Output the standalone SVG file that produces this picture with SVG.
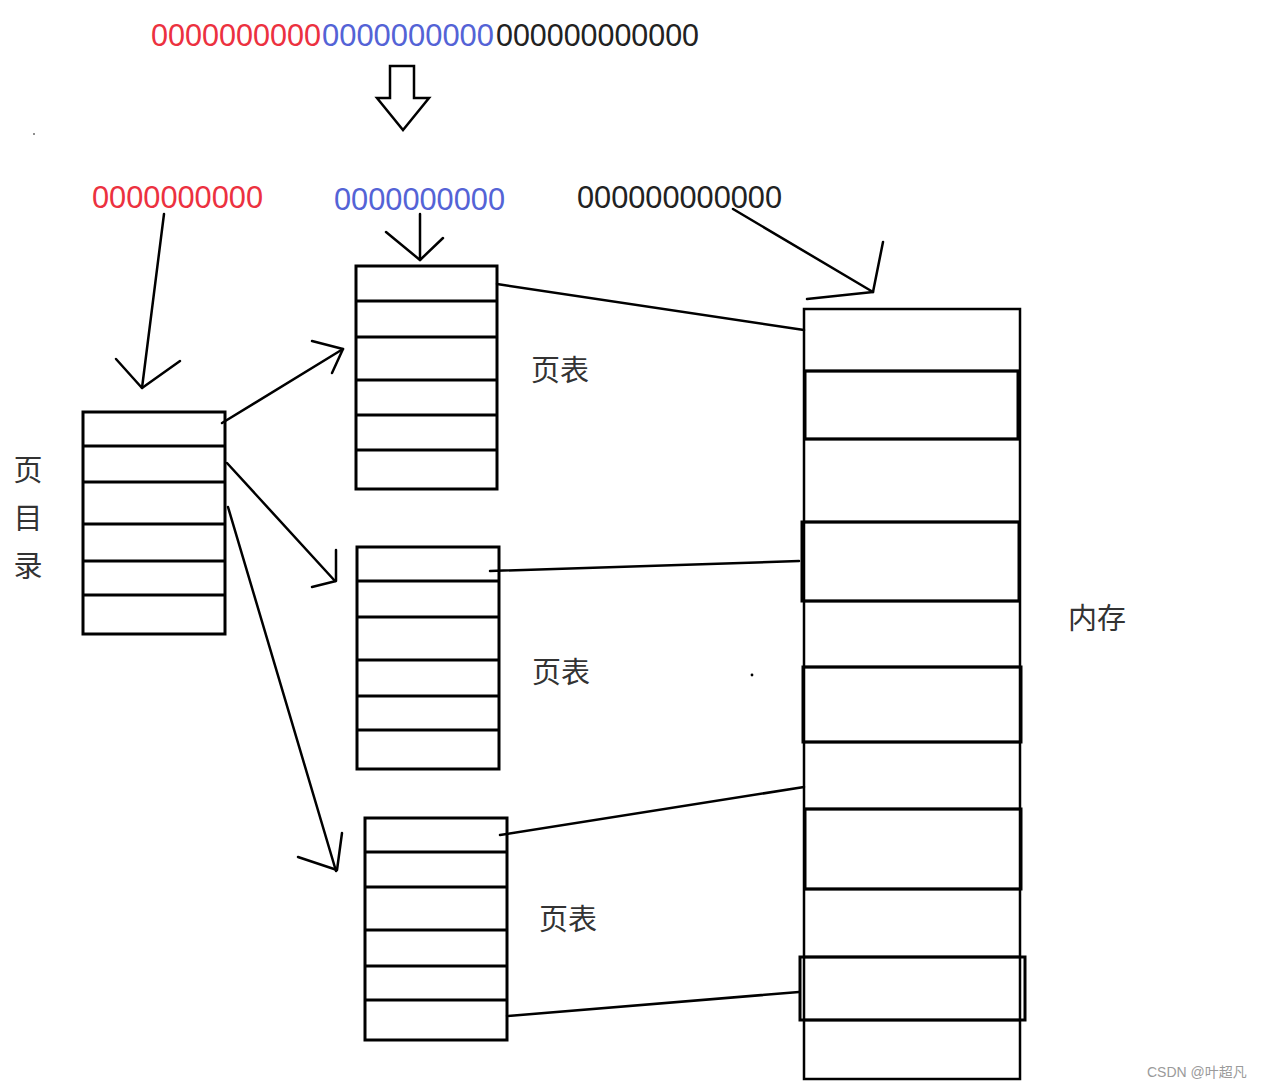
<svg xmlns="http://www.w3.org/2000/svg" width="1262" height="1089" viewBox="0 0 1262 1089">
<style>
.bg{fill:#ffffff}
.num{font-family:"Liberation Sans","Noto Sans",sans-serif;font-size:31px}
.red{fill:#ec3140}
.blue{fill:#5463d6}
.blk{fill:#222222}
.cn{font-family:"Noto Sans CJK SC","Noto Sans",sans-serif;font-size:29px;fill:#333333}
.box{fill:none;stroke:#000;stroke-width:3}
.row{stroke:#000;stroke-width:3}
.mem{fill:none;stroke:#000;stroke-width:2.5}
.memrow{stroke:#000;stroke-width:2.5}
.conn{fill:none;stroke:#000;stroke-width:2.5;stroke-linecap:round;stroke-linejoin:round}
.wm{font-family:"Liberation Sans","Noto Sans CJK SC",sans-serif;font-size:14px;fill:#9a9a9a}
</style>
<rect class="bg" x="0" y="0" width="1262" height="1089"/>

<g id="address-full">
<text class="num red" x="151" y="46" textLength="170" lengthAdjust="spacingAndGlyphs">0000000000</text>
<text class="num blue" x="322" y="46" textLength="172" lengthAdjust="spacingAndGlyphs">0000000000</text>
<text class="num blk" x="496" y="46" textLength="203" lengthAdjust="spacingAndGlyphs">000000000000</text>
</g>

<g id="split-arrow">
<polygon points="390,66 414,66 414,98 429,98 403,130 377,98 390,98" fill="#fff" stroke="#000" stroke-width="2.5" stroke-linejoin="miter"/>
</g>

<g id="address-parts">
<text class="num red" x="92" y="208" textLength="171" lengthAdjust="spacingAndGlyphs">0000000000</text>
<text class="num blue" x="334" y="210" textLength="171" lengthAdjust="spacingAndGlyphs">0000000000</text>
<text class="num blk" x="577" y="208" textLength="205" lengthAdjust="spacingAndGlyphs">000000000000</text>
</g>

<g id="page-directory">
<rect class="box" x="83" y="412" width="142" height="222"/>
<line class="row" x1="83" y1="446" x2="225" y2="446"/>
<line class="row" x1="83" y1="482" x2="225" y2="482"/>
<line class="row" x1="83" y1="524" x2="225" y2="524"/>
<line class="row" x1="83" y1="561" x2="225" y2="561"/>
<line class="row" x1="83" y1="595" x2="225" y2="595"/>
<text class="cn" x="28" y="481" text-anchor="middle">页</text>
<text class="cn" x="28" y="529" text-anchor="middle">目</text>
<text class="cn" x="28" y="577" text-anchor="middle">录</text>
</g>

<g id="page-table-1">
<rect class="box" x="356" y="266" width="141" height="223"/>
<line class="row" x1="356" y1="301" x2="497" y2="301"/>
<line class="row" x1="356" y1="337" x2="497" y2="337"/>
<line class="row" x1="356" y1="380" x2="497" y2="380"/>
<line class="row" x1="356" y1="415" x2="497" y2="415"/>
<line class="row" x1="356" y1="450" x2="497" y2="450"/>
<text class="cn" x="531" y="381">页表</text>
</g>

<g id="page-table-2">
<rect class="box" x="357" y="547" width="142" height="222"/>
<line class="row" x1="357" y1="581" x2="499" y2="581"/>
<line class="row" x1="357" y1="617" x2="499" y2="617"/>
<line class="row" x1="357" y1="660" x2="499" y2="660"/>
<line class="row" x1="357" y1="696" x2="499" y2="696"/>
<line class="row" x1="357" y1="730" x2="499" y2="730"/>
<text class="cn" x="532" y="683">页表</text>
</g>

<g id="page-table-3">
<rect class="box" x="365" y="818" width="142" height="222"/>
<line class="row" x1="365" y1="852" x2="507" y2="852"/>
<line class="row" x1="365" y1="887" x2="507" y2="887"/>
<line class="row" x1="365" y1="930" x2="507" y2="930"/>
<line class="row" x1="365" y1="966" x2="507" y2="966"/>
<line class="row" x1="365" y1="1000" x2="507" y2="1000"/>
<text class="cn" x="539" y="930">页表</text>
</g>

<g id="memory">
<rect class="mem" x="804" y="309" width="216" height="770"/>
<line class="memrow" x1="804" y1="371" x2="1020" y2="371"/>
<line class="memrow" x1="804" y1="439" x2="1020" y2="439"/>
<line class="memrow" x1="804" y1="522" x2="1020" y2="522"/>
<line class="memrow" x1="804" y1="601" x2="1020" y2="601"/>
<line class="memrow" x1="804" y1="667" x2="1020" y2="667"/>
<line class="memrow" x1="804" y1="742" x2="1020" y2="742"/>
<line class="memrow" x1="804" y1="809" x2="1020" y2="809"/>
<line class="memrow" x1="804" y1="889" x2="1020" y2="889"/>
<line class="memrow" x1="804" y1="957" x2="1020" y2="957"/>
<line class="memrow" x1="804" y1="1020" x2="1020" y2="1020"/>
<rect class="box" x="805" y="371" width="213" height="68"/>
<rect class="box" x="802" y="522" width="217" height="79"/>
<rect class="box" x="803" y="667" width="218" height="75"/>
<rect class="box" x="805" y="809" width="216" height="80"/>
<rect class="box" x="800" y="957" width="225" height="63"/>
<text class="cn" x="1068" y="629">内存</text>
</g>

<g id="connectors">
<!-- red part to directory -->
<line class="conn" x1="164" y1="214" x2="142" y2="388"/>
<polyline class="conn" points="116,359 142,388 180,361"/>
<!-- blue part to table 1 -->
<line class="conn" x1="420" y1="214" x2="420" y2="260"/>
<polyline class="conn" points="386,232 420,260 443,238"/>
<!-- offset to memory -->
<line class="conn" x1="733" y1="209" x2="873" y2="292"/>
<polyline class="conn" points="883,242 873,292 807,299"/>
<!-- directory to tables -->
<line class="conn" x1="222" y1="423" x2="343" y2="349"/>
<polyline class="conn" points="312,341 343,349 332,373"/>
<line class="conn" x1="227" y1="463" x2="335" y2="581"/>
<polyline class="conn" points="336,550 336,581 312,587"/>
<line class="conn" x1="228" y1="507" x2="336" y2="871"/>
<polyline class="conn" points="342,833 337,870 298,857"/>
<!-- tables to memory -->
<line class="conn" x1="497" y1="284" x2="804" y2="330"/>
<line class="conn" x1="490" y1="571" x2="799" y2="561"/>
<line class="conn" x1="500" y1="835" x2="804" y2="787"/>
<line class="conn" x1="507" y1="1016" x2="799" y2="992"/>
</g>

<g id="dots">
<circle cx="34" cy="134" r="0.8" fill="#000"/>
<circle cx="752" cy="675" r="1.4" fill="#000"/>
</g>

<text class="wm" x="1147" y="1077">CSDN @叶超凡</text>
</svg>
